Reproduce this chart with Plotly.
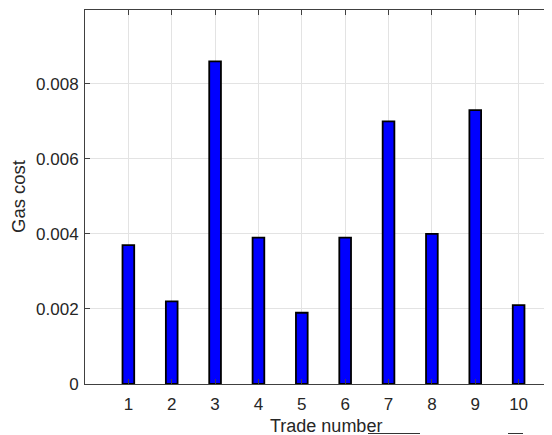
import plotly.graph_objects as go

trades = [1, 2, 3, 4, 5, 6, 7, 8, 9, 10]
gas_cost = [0.0037, 0.0022, 0.0086, 0.0039, 0.0019, 0.0039, 0.0070, 0.0040, 0.0073, 0.0021]
y_ticks = [0, 0.002, 0.004, 0.006, 0.008]
y_ticklabels = ["0", "0.002", "0.004", "0.006", "0.008"]

# The page body has an 8px margin, so the figure is offset by 8px; compensate.
PW, PH = 467, 374  # plot area size in px
fig = go.Figure()
fig.add_trace(go.Bar(
    x=trades, y=gas_cost, width=0.27,
    marker=dict(color="#0000ff", line=dict(color="black", width=1.8)),
))

axis_col = "#404040"
fig.update_layout(
    width=544, height=427,
    margin=dict(l=77, r=0, t=2, b=51, autoexpand=False),
    paper_bgcolor="white", plot_bgcolor="white",
    font=dict(family="Liberation Sans, Arial, sans-serif", size=17, color="#262626"),
    showlegend=False,
    xaxis=dict(
        range=[0, 10.77], tickvals=trades, ticktext=[str(t) for t in trades],
        ticks="inside", ticklen=5, tickcolor=axis_col,
        showline=True, linecolor=axis_col, linewidth=1, mirror="ticks",
        showgrid=True, gridcolor="#e3e3e3", gridwidth=1, zeroline=False,
        tickfont=dict(size=17), ticklabelstandoff=5,
    ),
    yaxis=dict(
        range=[0, 0.00997], tickvals=y_ticks, ticktext=y_ticklabels,
        ticks="inside", ticklen=5, tickcolor=axis_col,
        showline=True, linecolor=axis_col, linewidth=1, mirror=False,
        showgrid=True, gridcolor="#e3e3e3", gridwidth=1, zeroline=False,
        tickfont=dict(size=17), ticklabelstandoff=2,
    ),
    annotations=[
        dict(text="Trade number", xref="paper", yref="paper", x=(326 - 85) / PW, y=-42 / PH,
             xanchor="center", yanchor="middle", showarrow=False, font=dict(size=18)),
        dict(text="Gas cost", xref="paper", yref="paper", x=-67 / PW, y=0.5, textangle=-90,
             xanchor="center", yanchor="middle", showarrow=False, font=dict(size=18.5)),
    ],
    shapes=[
        dict(type="line", xref="paper", yref="paper", x0=(368 - 85) / PW, x1=(420 - 85) / PW,
             y0=-49.5 / PH, y1=-49.5 / PH, line=dict(color="#333333", width=1)),
        dict(type="line", xref="paper", yref="paper", x0=(508 - 85) / PW, x1=(523 - 85) / PW,
             y0=-49.5 / PH, y1=-49.5 / PH, line=dict(color="#333333", width=1)),
    ],
)

fig.write_html("out.html")
